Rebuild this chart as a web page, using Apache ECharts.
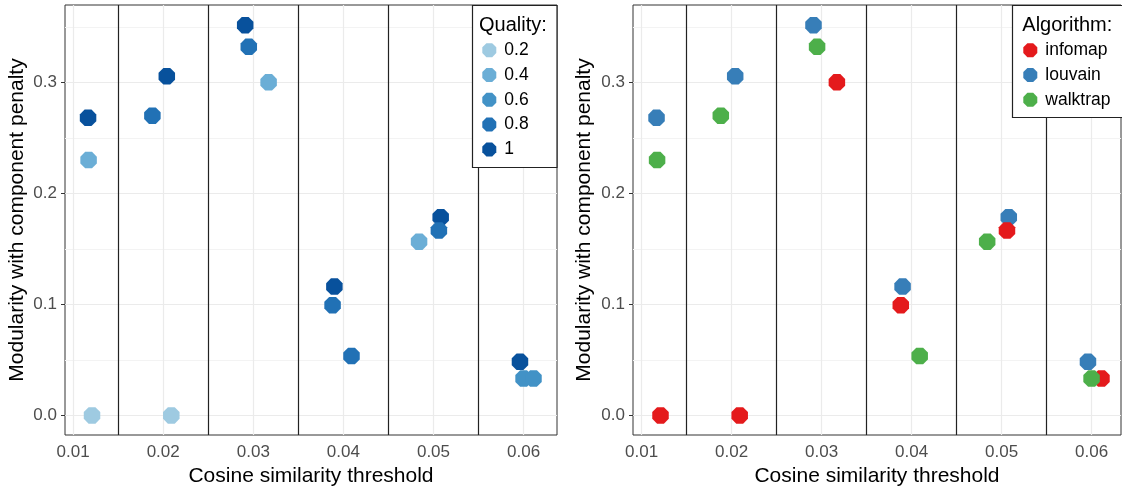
<!DOCTYPE html>
<html><head><meta charset="utf-8">
<script src="https://cdn.jsdelivr.net/npm/echarts@6/dist/echarts.min.js"></script>
<style>html,body{margin:0;padding:0;background:#fff}#c{width:1122px;height:492px}</style>
</head><body><div id="c"></div>
<script>
// ---- data ----
const threshold = [0.01166,0.01172,0.0121,0.0188,0.0204,0.0209,0.0291,0.0295,0.0317,0.0390,0.0388,0.0409,0.0484,0.0506,0.0508,0.0596,0.0600,0.0611];
const modularity = [0.268,0.230,0.0,0.270,0.3055,0.0,0.3515,0.332,0.300,0.116,0.0993,0.0535,0.1565,0.1665,0.1785,0.0483,0.0332,0.0332];
const quality = [1,0.4,0.2,0.8,1,0.2,1,0.8,0.4,1,0.8,0.8,0.4,0.8,1,1,0.6,0.6];
const algorithm = ['louvain','walktrap','infomap','walktrap','louvain','infomap','louvain','walktrap','infomap','louvain','infomap','walktrap','walktrap','infomap','louvain','louvain','walktrap','infomap'];
const qualityLevels = [0.2,0.4,0.6,0.8,1];
const qualityLabels = ['0.2','0.4','0.6','0.8','1'];
const qualityColors = ['#9ecae1','#6baed6','#4292c6','#2171b5','#08519c'];
const algorithmLevels = ['infomap','louvain','walktrap'];
const algorithmColors = ['#e41a1c','#377eb8','#4daf4a'];
const xTicks = [0.01,0.02,0.03,0.04,0.05,0.06];
const yTicks = [0,0.1,0.2,0.3];
const yMinor = [0.05,0.15,0.25,0.35];
const groupBreaks = [0.015,0.025,0.035,0.045,0.055];

// ---- chart ----
const FONT = '"Liberation Sans", Arial, sans-serif';
const OCT = 'path://M29.3,0L70.7,0L100,29.3L100,70.7L70.7,100L29.3,100L0,70.7L0,29.3Z';
const chart = echarts.init(document.getElementById('c'), null, {renderer: 'canvas'});

const grids = [
  {left: 65, top: 5, width: 492, height: 432},
  {left: 633, top: 5, width: 488, height: 432}
];
const xRanges = [[0.009101, 0.06371], [0.009044, 0.06327]];
const yRange = [-0.01766, 0.36967];
const yNameGap = [37, 38];

function xAxisDef(i) {
  return {
    type: 'value', gridIndex: i, min: xRanges[i][0], max: xRanges[i][1],
    name: 'Cosine similarity threshold', nameLocation: 'middle', nameGap: 31,
    nameTextStyle: {fontFamily: FONT, fontSize: 21, color: '#000'},
    axisLine: {show: false},
    axisTick: {show: true, length: 4, lineStyle: {color: '#333'}, customValues: xTicks},
    axisLabel: {fontFamily: FONT, fontSize: 17, color: '#4d4d4d', margin: 9, customValues: xTicks,
      formatter: v => v.toFixed(2)},
    splitLine: {show: false}
  };
}
function yAxisDef(i) {
  return {
    type: 'value', gridIndex: i, min: yRange[0], max: yRange[1],
    name: 'Modularity with component penalty', nameLocation: 'middle', nameGap: yNameGap[i],
    nameTextStyle: {fontFamily: FONT, fontSize: 21, color: '#000'},
    axisLine: {show: false},
    axisTick: {show: true, length: 4, lineStyle: {color: '#333'}, customValues: yTicks},
    axisLabel: {fontFamily: FONT, fontSize: 17, color: '#4d4d4d', margin: 8, customValues: yTicks,
      formatter: v => v.toFixed(1)},
    splitLine: {show: false}
  };
}

function guide(i, items, color, width) {
  return {
    type: 'scatter', xAxisIndex: i, yAxisIndex: i, data: [], z: 1, silent: true,
    markLine: {silent: true, z: 1, precision: 6, symbol: 'none', label: {show: false}, animation: false,
      lineStyle: {color: color, width: width, type: 'solid'},
      emphasis: {disabled: true},
      data: items}
  };
}

const series = [];
[0, 1].forEach(i => {
  series.push(guide(i, yMinor.map(v => ({yAxis: v})), '#f3f3f3', 1));
  series.push(guide(i, yTicks.map(v => ({yAxis: v})).concat(xTicks.map(v => ({xAxis: v}))), '#ebebeb', 1.2));
  series.push(guide(i, groupBreaks.map(v => ({xAxis: v})), '#222', 1.2));
});
// left: coloured by quality (darkest drawn first)
[4,3,2,1,0].forEach(k => {
  const data = [];
  threshold.forEach((x, j) => { if (quality[j] === qualityLevels[k]) data.push([x, modularity[j]]); });
  series.push({type: 'scatter', name: qualityLabels[k], xAxisIndex: 0, yAxisIndex: 0, z: 3,
    symbol: OCT, symbolSize: 16.5, itemStyle: {color: qualityColors[k], opacity: 1}, data});
});
// right: coloured by algorithm
[1,0,2].forEach(k => {
  const data = [];
  threshold.forEach((x, j) => { if (algorithm[j] === algorithmLevels[k]) data.push([x, modularity[j]]); });
  series.push({type: 'scatter', name: algorithmLevels[k], xAxisIndex: 1, yAxisIndex: 1, z: 3,
    symbol: OCT, symbolSize: 16.5, itemStyle: {color: algorithmColors[k], opacity: 1}, data});
});

const legendCommon = {
  orient: 'vertical', padding: 0, itemWidth: 20, itemHeight: 14, itemGap: 6.8,
  icon: OCT, symbolKeepAspect: true, z: 20, selectedMode: false,
  textStyle: {fontFamily: FONT, fontSize: 17.5, color: '#000'}
};

chart.setOption({
  animation: false,
  backgroundColor: '#fff',
  grid: grids.map(g => Object.assign({show: true, borderColor: '#333', borderWidth: 1, backgroundColor: '#fff', containLabel: false}, g)),
  xAxis: [xAxisDef(0), xAxisDef(1)],
  yAxis: [yAxisDef(0), yAxisDef(1)],
  legend: [
    Object.assign({}, legendCommon, {left: 482.3, top: 41.2, data: qualityLabels}),
    Object.assign({}, legendCommon, {left: 1023.3, top: 41.2, data: algorithmLevels})
  ],
  graphic: [
    {type: 'rect', z: 15, shape: {x: 472.5, y: 5.5, width: 84.5, height: 162}, style: {fill: '#fff', stroke: '#222', lineWidth: 1.2}},
    {type: 'text', z: 16, x: 479, y: 25, style: {text: 'Quality:', font: '20px ' + FONT, fill: '#000', verticalAlign: 'middle'}},
    {type: 'rect', z: 15, shape: {x: 1012.5, y: 5.5, width: 112, height: 112}, style: {fill: '#fff', stroke: '#222', lineWidth: 1.2}},
    {type: 'text', z: 16, x: 1022.3, y: 25, style: {text: 'Algorithm:', font: '20px ' + FONT, fill: '#000', verticalAlign: 'middle'}}
  ],
  series
});
</script>
</body></html>
